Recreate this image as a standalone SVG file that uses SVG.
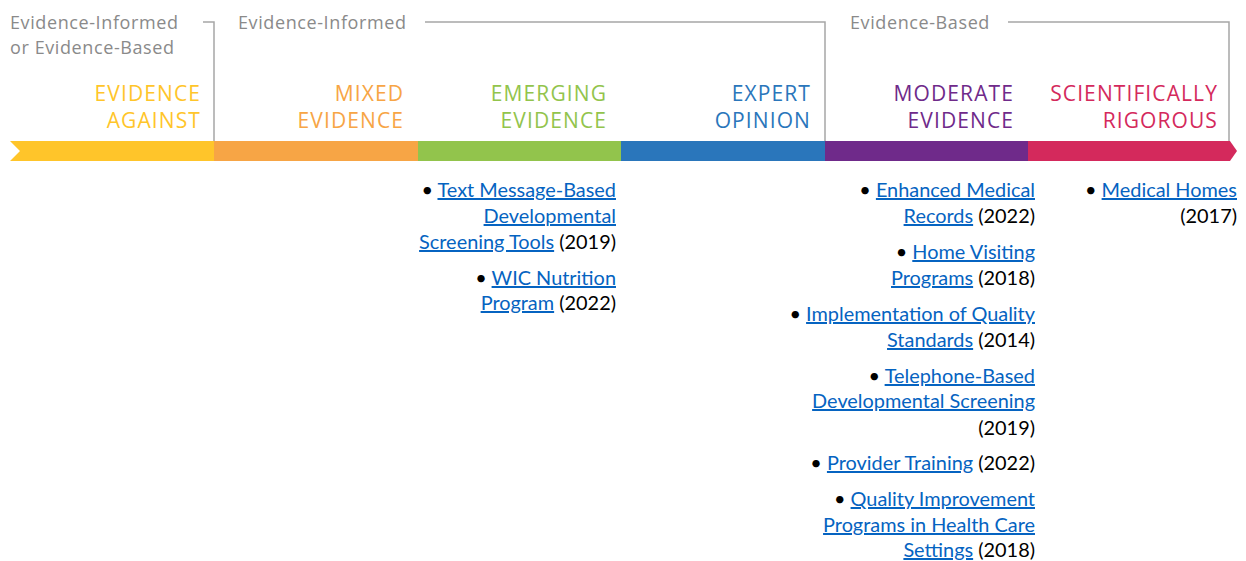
<svg xmlns="http://www.w3.org/2000/svg" width="1246" height="561" viewBox="0 0 1246 561">
<style>
.grp{font-family:"Open Sans",sans-serif;font-size:18px;fill:#8a8a8a;letter-spacing:0.6px}
.cat{font-family:"Open Sans",sans-serif;font-size:21px;text-anchor:end;letter-spacing:1.1px}
.br{fill:none;stroke:#a6a6a6;stroke-width:1.5}
.it{font-family:Lato,"Liberation Sans",sans-serif;font-size:19.9px;text-anchor:end;fill:#000}
.lk{fill:#0563c1;text-decoration:underline}
</style>
<rect width="1246" height="561" fill="#fff"/>
<g id="brackets">
<polyline class="br" points="203,22 214,22 214,141"/>
<polyline class="br" points="425,22 825,22 825,141"/>
<polyline class="br" points="1008,22 1229,22 1229,141"/>
</g>
<g id="group-labels">
<text class="grp" x="10" y="29">Evidence-Informed</text>
<text class="grp" x="10" y="54">or Evidence-Based</text>
<text class="grp" x="238" y="29">Evidence-Informed</text>
<text class="grp" x="850" y="29">Evidence-Based</text>
</g>
<g id="evidence-against">
<polygon points="10,141 214,141 214,161 10,161 20,151" fill="#ffc52a"/>
<text class="cat" fill="#ffc52a" x="201" y="101">EVIDENCE</text>
<text class="cat" fill="#ffc52a" x="201" y="128">AGAINST</text>
</g>
<g id="mixed-evidence">
<rect x="214" y="141" width="204" height="20" fill="#f7a545"/>
<text class="cat" fill="#f7a545" x="404" y="101">MIXED</text>
<text class="cat" fill="#f7a545" x="404" y="128">EVIDENCE</text>
</g>
<g id="emerging-evidence">
<rect x="418" y="141" width="203" height="20" fill="#92c44c"/>
<text class="cat" fill="#92c44c" x="607" y="101">EMERGING</text>
<text class="cat" fill="#92c44c" x="607" y="128">EVIDENCE</text>
</g>
<g id="expert-opinion">
<rect x="621" y="141" width="204" height="20" fill="#2a76bb"/>
<text class="cat" fill="#2a76bb" x="811" y="101">EXPERT</text>
<text class="cat" fill="#2a76bb" x="811" y="128">OPINION</text>
</g>
<g id="moderate-evidence">
<rect x="825" y="141" width="203" height="20" fill="#6f2a8a"/>
<text class="cat" fill="#6f2a8a" x="1014" y="101">MODERATE</text>
<text class="cat" fill="#6f2a8a" x="1014" y="128">EVIDENCE</text>
</g>
<g id="scientifically-rigorous">
<polygon points="1028,141 1230,141 1237,151 1230,161 1028,161" fill="#d4295c"/>
<text class="cat" fill="#d4295c" x="1218" y="101">SCIENTIFICALLY</text>
<text class="cat" fill="#d4295c" x="1218" y="128">RIGOROUS</text>
</g>
<g id="emerging-items">
<text class="it" x="616" y="197">• <tspan class="lk">Text Message-Based</tspan></text>
<text class="it" x="616" y="223"><tspan class="lk">Developmental</tspan></text>
<text class="it" x="616" y="249"><tspan class="lk">Screening Tools</tspan> (2019)</text>
<text class="it" x="616" y="285">• <tspan class="lk">WIC Nutrition</tspan></text>
<text class="it" x="616" y="310"><tspan class="lk">Program</tspan> (2022)</text>
</g>
<g id="moderate-items">
<text class="it" x="1035" y="197">• <tspan class="lk">Enhanced Medical</tspan></text>
<text class="it" x="1035" y="223"><tspan class="lk">Records</tspan> (2022)</text>
<text class="it" x="1035" y="259">• <tspan class="lk">Home Visiting</tspan></text>
<text class="it" x="1035" y="285"><tspan class="lk">Programs</tspan> (2018)</text>
<text class="it" x="1035" y="321">• <tspan class="lk">Implementation of Quality</tspan></text>
<text class="it" x="1035" y="347"><tspan class="lk">Standards</tspan> (2014)</text>
<text class="it" x="1035" y="383">• <tspan class="lk">Telephone-Based</tspan></text>
<text class="it" x="1035" y="408"><tspan class="lk">Developmental Screening</tspan></text>
<text class="it" x="1035" y="435">(2019)</text>
<text class="it" x="1035" y="470">• <tspan class="lk">Provider Training</tspan> (2022)</text>
<text class="it" x="1035" y="506">• <tspan class="lk">Quality Improvement</tspan></text>
<text class="it" x="1035" y="532"><tspan class="lk">Programs in Health Care</tspan></text>
<text class="it" x="1035" y="557"><tspan class="lk">Settings</tspan> (2018)</text>
</g>
<g id="rigorous-items">
<text class="it" x="1237" y="197">• <tspan class="lk">Medical Homes</tspan></text>
<text class="it" x="1237" y="223">(2017)</text>
</g>
</svg>
